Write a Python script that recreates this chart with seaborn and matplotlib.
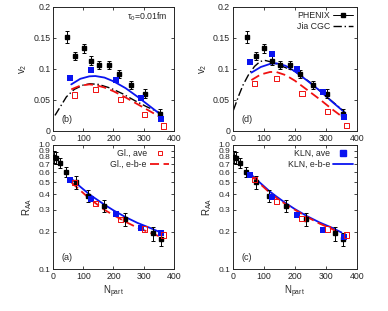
import numpy as np
import seaborn as sns
import matplotlib.pyplot as plt
from matplotlib.lines import Line2D
from matplotlib.ticker import FixedLocator, FixedFormatter, NullLocator

# PHENIX data (same in both columns)
phx_npart = [45, 74, 102, 127, 153, 184, 218, 258, 305, 355]
phx_v2 = [0.151, 0.121, 0.133, 0.113, 0.106, 0.106, 0.092, 0.074, 0.060, 0.028]
phx_v2_err = [0.010, 0.007, 0.007, 0.007, 0.006, 0.006, 0.006, 0.006, 0.007, 0.008]
phx_raa_npart = [3, 11, 24, 44, 76, 117, 170, 237, 330, 356]
phx_raa = [0.805, 0.79, 0.72, 0.61, 0.50, 0.39, 0.323, 0.252, 0.194, 0.174]
phx_raa_err = [0.09, 0.09, 0.07, 0.06, 0.06, 0.045, 0.035, 0.03, 0.025, 0.022]

# model points (ave)
kln_npart = [57, 126, 208, 290, 357]
gl_npart = [70, 141, 223, 304, 366]
kln_v2_b = [0.086, 0.098, 0.082, 0.053, 0.020]
gl_v2_b = [0.058, 0.067, 0.051, 0.026, 0.008]
kln_v2_d = [0.111, 0.124, 0.100, 0.062, 0.023]
gl_v2_d = [0.076, 0.084, 0.060, 0.031, 0.009]
kln_raa_a = [0.523, 0.37, 0.277, 0.215, 0.194]
gl_raa_a = [0.498, 0.337, 0.252, 0.21, 0.188]
kln_raa_c = [0.574, 0.377, 0.272, 0.207, 0.181]
gl_raa_c = [0.53, 0.352, 0.257, 0.21, 0.188]

# e-b-e curves
curve_npart = [60, 90, 120, 140, 170, 200, 240, 280, 320, 360]
raa_curve_npart = [60, 90, 120, 140, 170, 200, 240, 280, 320, 350]
kln_line_b = [0.075, 0.084, 0.088, 0.0885, 0.086, 0.080, 0.069, 0.055, 0.040, 0.025]
gl_line_b = [0.067, 0.073, 0.075, 0.074, 0.070, 0.064, 0.054, 0.043, 0.032, 0.021]
kln_line_d = [0.094, 0.103, 0.108, 0.109, 0.105, 0.096, 0.081, 0.065, 0.047, 0.030]
gl_line_d = [0.082, 0.091, 0.095, 0.095, 0.090, 0.081, 0.066, 0.051, 0.035, 0.020]
kln_line_a = [0.536, 0.46, 0.40, 0.37, 0.33, 0.297, 0.262, 0.235, 0.215, 0.200]
gl_line_a = [0.50, 0.43, 0.37, 0.34, 0.30, 0.272, 0.240, 0.215, 0.197, 0.184]
kln_line_c = [0.574, 0.49, 0.42, 0.385, 0.34, 0.304, 0.266, 0.237, 0.215, 0.197]
gl_line_c = [0.56, 0.48, 0.41, 0.375, 0.333, 0.30, 0.262, 0.232, 0.210, 0.190]

# Jia CGC curves
jia_npart_b = [6, 25, 44, 70, 100, 122, 150, 190, 230, 270, 310, 360]
jia_v2_b = [0.025, 0.040, 0.055, 0.067, 0.074, 0.076, 0.075, 0.069, 0.060, 0.049, 0.039, 0.028]
jia_npart_d = [2, 20, 33, 50, 70, 88, 105, 125, 150, 200, 250, 300, 360]
jia_v2_d = [0.0335, 0.058, 0.074, 0.090, 0.104, 0.112, 0.1135, 0.111, 0.106, 0.096, 0.078, 0.056, 0.031]

sns.set_style('ticks')
plt.rcParams['font.family'] = ['Liberation Sans', 'DejaVu Sans']
plt.rcParams['font.size'] = 6.3
plt.rcParams['mathtext.fontset'] = 'custom'
plt.rcParams['mathtext.rm'] = 'Liberation Sans'
plt.rcParams['mathtext.it'] = 'Liberation Sans'

BLUE = '#0a14f0'
RED = '#f01010'
FS = 6.3

fig = plt.figure(figsize=(3.88, 3.11), dpi=100)
ax_b = fig.add_axes([0.137, 0.579, 0.311, 0.399])
ax_d = fig.add_axes([0.600, 0.579, 0.320, 0.399])
ax_a = fig.add_axes([0.137, 0.135, 0.311, 0.399])
ax_c = fig.add_axes([0.600, 0.135, 0.320, 0.399])


def style(ax):
    ax.tick_params(direction='in', top=True, right=True, length=2.5, width=0.6,
                   labelsize=FS, pad=2)
    for s in ax.spines.values():
        s.set_linewidth(0.7)
    ax.set_xlim(0, 400)
    ax.set_xticks([0, 100, 200, 300, 400])


def phenix(ax, x, y, e):
    ax.errorbar(x, y, yerr=e, fmt='s', color='black', ms=2.2, elinewidth=0.7,
                capsize=1.3, capthick=0.7, zorder=5)


def v2_panel(ax, kln, gl, kln_l, gl_l, jx, jy, tag):
    style(ax)
    sns.lineplot(x=jx, y=jy, ax=ax, color='black', lw=1.0, dashes=(6, 2, 1, 2))
    sns.lineplot(x=curve_npart, y=kln_l, ax=ax, color=BLUE, lw=1.3)
    sns.lineplot(x=curve_npart, y=gl_l, ax=ax, color=RED, lw=1.3, dashes=(5, 2.5))
    phenix(ax, phx_npart, phx_v2, phx_v2_err)
    sns.scatterplot(x=kln_npart, y=kln, ax=ax, marker='s', color=BLUE, s=18,
                    linewidth=0, zorder=6)
    ax.scatter(gl_npart, gl, marker='s', facecolors='none', edgecolors=RED,
               s=14, linewidths=0.7, zorder=6)
    ax.set_ylim(0, 0.2)
    ax.set_yticks([0, 0.05, 0.1, 0.15, 0.2])
    ax.set_yticklabels(['0', '0.05', '0.1', '0.15', '0.2'])
    ax.set_ylabel('v$_2$', fontsize=7, labelpad=3)
    ax.text(0.07, 0.07, tag, transform=ax.transAxes, fontsize=6.5)


def raa_panel(ax, kln, gl, kln_l, gl_l, tag):
    style(ax)
    sns.lineplot(x=raa_curve_npart, y=kln_l, ax=ax, color=BLUE, lw=1.3)
    sns.lineplot(x=raa_curve_npart, y=gl_l, ax=ax, color=RED, lw=1.3, dashes=(5, 2.5))
    phenix(ax, phx_raa_npart, phx_raa, phx_raa_err)
    sns.scatterplot(x=kln_npart, y=kln, ax=ax, marker='s', color=BLUE, s=18,
                    linewidth=0, zorder=6)
    ax.scatter(gl_npart, gl, marker='s', facecolors='none', edgecolors=RED,
               s=14, linewidths=0.7, zorder=6)
    ax.set_yscale('log')
    ax.set_ylim(0.1, 1.0)
    ticks = [0.1, 0.2, 0.3, 0.4, 0.5, 0.6, 0.7, 0.8, 0.9, 1.0]
    ax.yaxis.set_major_locator(FixedLocator(ticks))
    ax.yaxis.set_major_formatter(FixedFormatter(['%.1f' % t for t in ticks]))
    ax.yaxis.set_minor_locator(NullLocator())
    ax.tick_params(axis='y', labelsize=6.0)
    ax.set_ylabel('R$_{AA}$', fontsize=7, labelpad=3)
    ax.set_xlabel('N$_{part}$', fontsize=7, labelpad=2)
    ax.text(0.07, 0.07, tag, transform=ax.transAxes, fontsize=6.5)


v2_panel(ax_b, kln_v2_b, gl_v2_b, kln_line_b, gl_line_b, jia_npart_b, jia_v2_b, '(b)')
v2_panel(ax_d, kln_v2_d, gl_v2_d, kln_line_d, gl_line_d, jia_npart_d, jia_v2_d, '(d)')
raa_panel(ax_a, kln_raa_a, gl_raa_a, kln_line_a, gl_line_a, '(a)')
raa_panel(ax_c, kln_raa_c, gl_raa_c, kln_line_c, gl_line_c, '(c)')

ax_b.text(0.95, 0.9, r'$\tau_0$=0.01fm', transform=ax_b.transAxes, ha='right',
          fontsize=FS)

# legends
leg_kw = dict(loc='upper right', frameon=False, markerfirst=False, fontsize=FS,
              handlelength=2.2, borderaxespad=0.1, labelspacing=0.2,
              handletextpad=0.4)

h_phx = ax_d.errorbar([], [], xerr=[], fmt='s-', color='black', ms=2.2,
                      lw=0.7, elinewidth=0.7, capsize=1.3)
h_jia = Line2D([], [], color='black', lw=1.0, dashes=(6, 2, 1, 2))
ax_d.legend([h_phx, h_jia], ['PHENIX', 'Jia CGC'], **leg_kw)

h_glave = Line2D([], [], marker='s', ls='none', mfc='none', mec=RED, ms=3.5, mew=0.7)
h_glebe = Line2D([], [], color=RED, lw=1.3, dashes=(5, 2.5))
ax_a.legend([h_glave, h_glebe], ['Gl., ave', 'Gl., e-b-e'], **leg_kw)

h_klnave = Line2D([], [], marker='s', ls='none', color=BLUE, ms=4)
h_klnebe = Line2D([], [], color=BLUE, lw=1.3)
ax_c.legend([h_klnave, h_klnebe], ['KLN, ave', 'KLN, e-b-e'], **leg_kw)

if ax_b.get_legend() is not None:
    ax_b.get_legend().remove()

fig.savefig('out.png', dpi=100)
